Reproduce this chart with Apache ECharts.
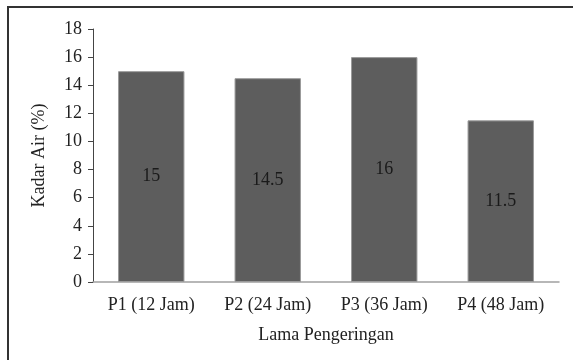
<!DOCTYPE html>
<html>
<head>
<meta charset="utf-8">
<script src="https://cdn.jsdelivr.net/npm/echarts@6/dist/echarts.min.js"></script>
<style>
  html, body { margin: 0; padding: 0; background: #fff; }
  #chart { width: 573px; height: 360px; }
</style>
</head>
<body>
<div id="chart"></div>
<script>
// Moisture content by drying duration
const categories = ['P1 (12 Jam)', 'P2 (24 Jam)', 'P3 (36 Jam)', 'P4 (48 Jam)'];
const kadarAir = [15, 14.5, 16, 11.5];
const yMin = 0, yMax = 18, yStep = 2;

const font = 'Liberation Serif, Times New Roman, serif';
const chart = echarts.init(document.getElementById('chart'), null, { renderer: 'canvas' });

chart.setOption({
  animation: false,
  backgroundColor: '#fff',
  // outer frame: top and left edges of the chart box
  graphic: [
    { type: 'line', shape: { x1: 8, y1: 7, x2: 573, y2: 7 }, style: { stroke: '#333', lineWidth: 2 } },
    { type: 'line', shape: { x1: 8, y1: 6, x2: 8, y2: 360 }, style: { stroke: '#333', lineWidth: 2 } }
  ],
  grid: { left: 93, right: 14, top: 29, bottom: 78, containLabel: false },
  xAxis: {
    type: 'category',
    data: categories,
    name: 'Lama Pengeringan',
    nameLocation: 'middle',
    nameGap: 44,
    nameTextStyle: { fontFamily: font, fontSize: 18, color: '#222' },
    axisLine: { lineStyle: { color: '#a0a0a0', width: 1.5 } },
    axisTick: { show: false },
    axisLabel: { fontFamily: font, fontSize: 18, color: '#222', margin: 14 }
  },
  yAxis: {
    type: 'value',
    min: yMin, max: yMax, interval: yStep,
    name: 'Kadar Air (%)',
    nameLocation: 'middle',
    nameGap: 45,
    nameRotate: 90,
    nameTextStyle: { fontFamily: font, fontSize: 18, color: '#222' },
    axisLine: { show: true, lineStyle: { color: '#444', width: 1 } },
    axisTick: { show: true, length: 5, inside: false, lineStyle: { color: '#444' } },
    splitLine: { show: false },
    axisLabel: { fontFamily: font, fontSize: 18, color: '#222', margin: 11 }
  },
  series: [{
    type: 'bar',
    data: kadarAir,
    barCategoryGap: '43%',
    itemStyle: { color: '#5d5d5d', borderColor: '#9a9a9a', borderWidth: 1 },
    label: {
      show: true,
      position: 'inside',
      fontFamily: font,
      fontSize: 18,
      color: '#1a1a1a'
    }
  }]
});
</script>
</body>
</html>
